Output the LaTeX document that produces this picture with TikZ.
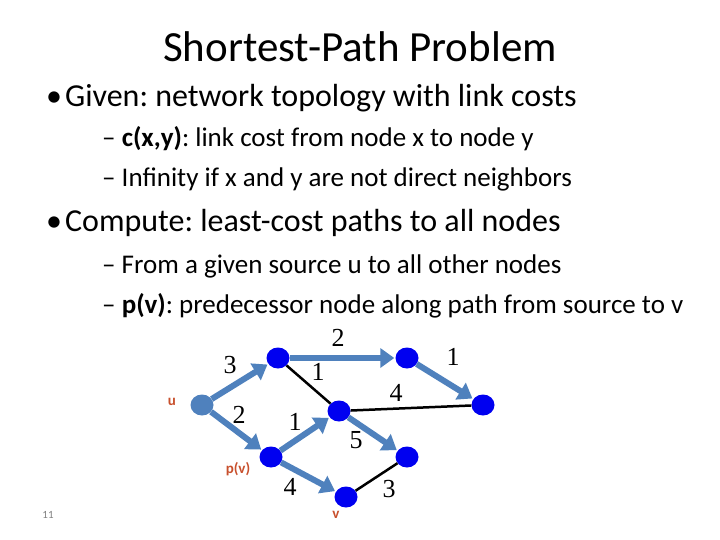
\documentclass[tikz,border=0pt]{standalone}
\usepackage{fontspec}
\setmainfont{Carlito}
\newfontfamily\tms{Liberation Serif}
\usetikzlibrary{arrows.meta,shapes.geometric}
\definecolor{steel}{RGB}{79,129,189}
\definecolor{nblue}{RGB}{0,0,240}
\definecolor{lab}{RGB}{200,80,45}
\tikzset{
 vert/.style={ellipse,fill=nblue,minimum width=23pt,minimum height=21pt,inner sep=0pt},
 src/.style={vert,fill=steel},
 arr/.style={steel,line width=6pt,-{Triangle[length=14pt,width=19pt]},shorten >=1pt},
 blk/.style={black,line width=2.5pt},
 num/.style={font=\tms\fontsize{26}{26}\selectfont,inner sep=0pt},
 lbl/.style={font=\fontsize{15}{15}\selectfont\bfseries,text=lab,inner sep=0pt},
 txt/.style={anchor=base west,inner sep=0pt},
}
\begin{document}
\frenchspacing
\begin{tikzpicture}[x=1pt,y=-1pt]
\useasboundingbox (0,0) rectangle (720,540);
\node[inner sep=0pt,anchor=base,font=\fontsize{43}{43}\selectfont] (title) at (360,62) {Shortest-Path Problem};
\node[txt,font=\fontsize{32}{32}\selectfont] (b1) at (46,107) {•\hspace{3pt}Given: network topology with link costs};
\node[txt,font=\fontsize{27}{27}\selectfont] (s1) at (102,147) {– \textbf{c(x,y)}: link cost from node x to node y};
\node[txt,font=\fontsize{27}{27}\selectfont] (s2) at (102,187) {– Infinity if x and y are not direct neighbors};
\node[txt,font=\fontsize{32}{32}\selectfont] (b2) at (46,232) {•\hspace{3pt}Compute: least-cost paths to all nodes};
\node[txt,font=\fontsize{27}{27}\selectfont] (s3) at (102,273) {– From a given source u to all other nodes};
\node[txt,font=\fontsize{27}{27}\selectfont] (s4) at (102,313) {– \textbf{p(v)}: predecessor node along path from source to v};

\node[src] (u) at (202,405) {};
\node[vert] (A) at (278,358) {};
\node[vert] (B) at (407,358) {};
\node[vert] (C) at (483,405) {};
\node[vert] (D) at (339,411) {};
\node[vert] (E) at (271,457) {};
\node[vert] (F) at (407,457) {};
\node[vert] (V) at (346,497) {};

\draw[blk] (A) -- (D);
\draw[blk] (D) -- (C);
\draw[blk] (V) -- (F);
\draw[arr] (u) -- (A);
\draw[arr] (u) -- (E);
\draw[arr] (A) -- (B);
\draw[arr] (B) -- (C);
\draw[arr] (E) -- (D);
\draw[arr] (E) -- (V);
\draw[arr] (D) -- (F);

\node[num] (n1) at (230,365) {3};
\node[num] (n2) at (338,338) {2};
\node[num] (n3) at (453,357) {1};
\node[num] (n4) at (318,372) {1};
\node[num] (n5) at (396,393) {4};
\node[num] (n6) at (239,415) {2};
\node[num] (n7) at (295,422) {1};
\node[num] (n8) at (356,440) {5};
\node[num] (n9) at (290,487) {4};
\node[num] (n10) at (389,489) {3};

\node[lbl] (lu) at (172,402) {u};
\node[lbl] (lp) at (238,469) {p(v)};
\node[lbl] (lv) at (336,515) {v};
\node[inner sep=0pt,text=gray,font=\fontsize{11}{11}\selectfont] (pg) at (48,515) {11};
\end{tikzpicture}
\end{document}
